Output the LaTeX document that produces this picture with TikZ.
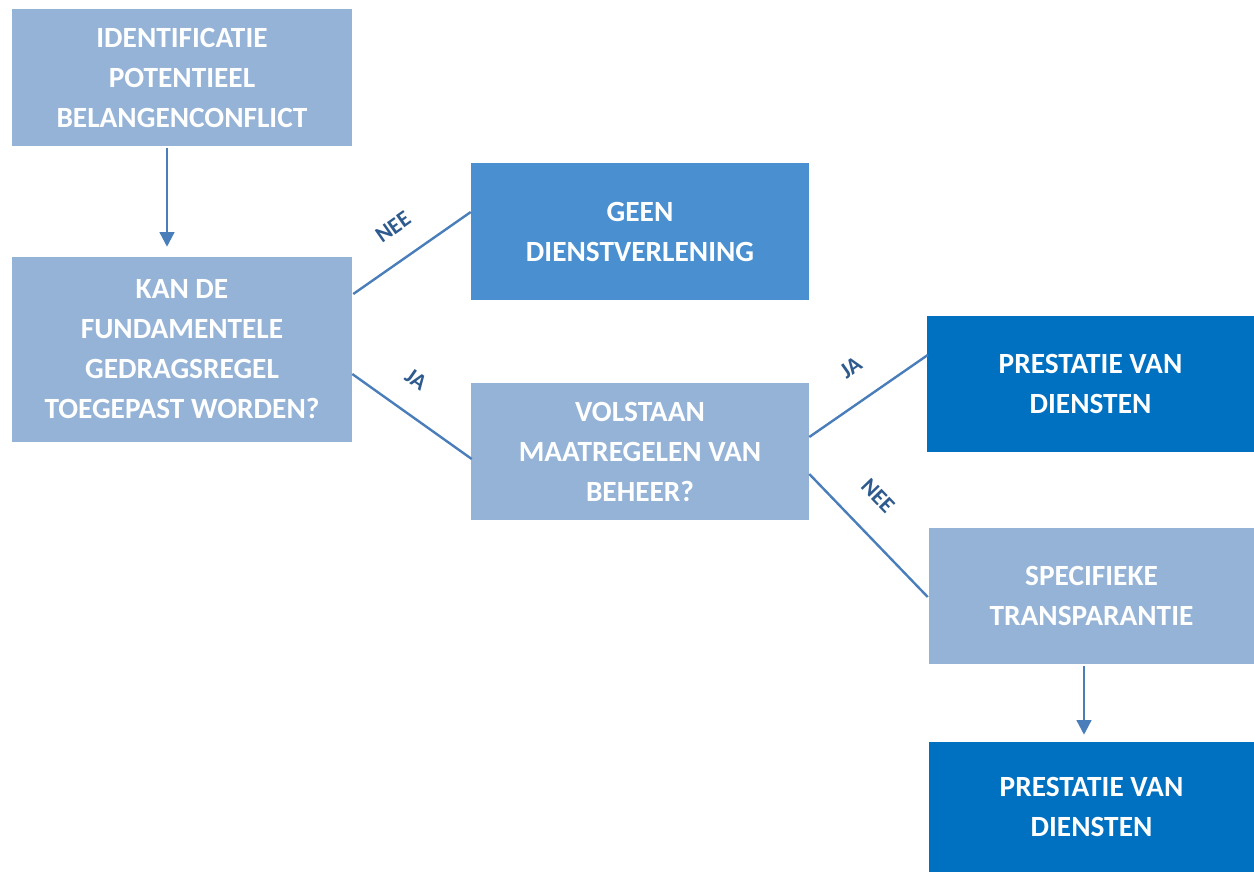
\documentclass[tikz,border=0pt]{standalone}
\usepackage{fontspec}
\setmainfont{Carlito}
\usetikzlibrary{arrows.meta,calc}
\definecolor{lightbox}{HTML}{95B3D7}
\definecolor{midbox}{HTML}{4A8FCF}
\definecolor{darkbox}{HTML}{0070C0}
\definecolor{linecol}{HTML}{4A7EBB}
\definecolor{labcol}{HTML}{2E5A8E}
\tikzset{
  box/.style={rectangle, inner sep=0pt, text=white, align=center,
    font=\fontsize{22pt}{30pt}\selectfont\bfseries},
  conn/.style={draw=linecol, line width=1.8pt},
  arr/.style={conn, -{Triangle[length=11pt,width=11pt]}},
  lab/.style={text=labcol, font=\fontsize{17pt}{18pt}\selectfont\bfseries, inner sep=0pt}
}
\begin{document}
\begin{tikzpicture}[x=0.75pt,y=-0.75pt]
\useasboundingbox (0,0) rectangle (1254,872);
\node[box, fill=lightbox, minimum width=340*0.75pt, minimum height=137*0.75pt] (A) at (182,77.5)
  {IDENTIFICATIE\\POTENTIEEL\\BELANGENCONFLICT};
\node[box, fill=lightbox, minimum width=340*0.75pt, minimum height=185*0.75pt] (B) at (182,349.5)
  {KAN DE\\FUNDAMENTELE\\GEDRAGSREGEL\\TOEGEPAST WORDEN?};
\node[box, fill=midbox, minimum width=338*0.75pt, minimum height=137*0.75pt] (C) at (640,231.5)
  {GEEN\\DIENSTVERLENING};
\node[box, fill=lightbox, minimum width=338*0.75pt, minimum height=137*0.75pt] (D) at (640,451.5)
  {VOLSTAAN\\MAATREGELEN VAN\\BEHEER?};
\node[box, fill=darkbox, minimum width=327*0.75pt, minimum height=136*0.75pt] (E) at (1090.5,384)
  {PRESTATIE VAN\\DIENSTEN};
\node[box, fill=lightbox, minimum width=325*0.75pt, minimum height=136*0.75pt] (F) at (1091.5,596)
  {SPECIFIEKE\\TRANSPARANTIE};
\node[box, fill=darkbox, minimum width=325*0.75pt, minimum height=130*0.75pt] (G) at (1091.5,807)
  {PRESTATIE VAN\\DIENSTEN};

\draw[arr] ([shift={(-15,2)}]A.south) -- ([shift={(-15,-10)}]B.north);
\draw[arr] ([shift={(-7.5,2)}]F.south) -- ([shift={(-7.5,-7)}]G.north);

\draw[conn] ([shift={(1,-55.5)}]B.east) -- ([shift={(0,-19.5)}]C.west);
\draw[conn] ([shift={(0,24.5)}]B.east) -- ([shift={(1,7.5)}]C.west |- D.west);
\draw[conn] ([shift={(0,-14.5)}]D.east) -- ([shift={(1,-29)}]E.west);
\draw[conn] ([shift={(0,22.5)}]D.east) -- ([shift={(-1,1)}]F.west);

\node[lab, rotate=35] (l1) at (393,227) {NEE};
\node[lab, rotate=-35] (l2) at (416,379) {JA};
\node[lab, rotate=35] (l3) at (851,368) {JA};
\node[lab, rotate=-46] (l4) at (878,496) {NEE};
\end{tikzpicture}
\end{document}
